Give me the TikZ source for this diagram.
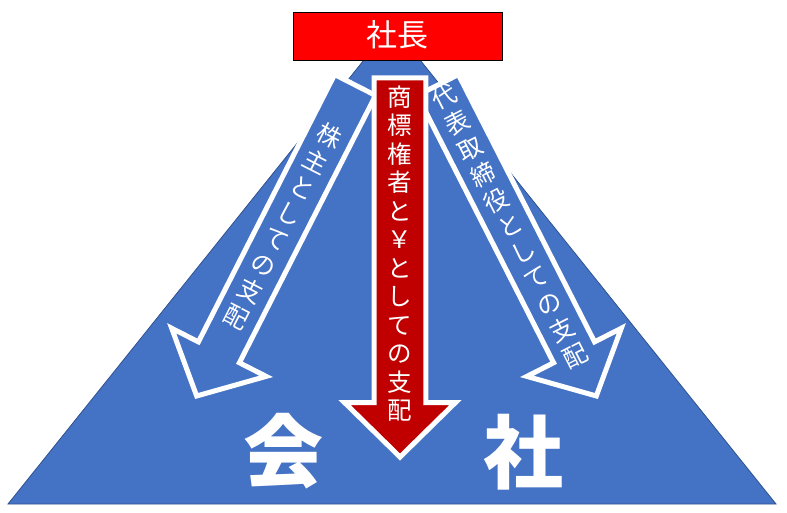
\documentclass[tikz,border=0pt]{standalone}
\usepackage{fontspec}
\newfontfamily\jp{Noto Sans CJK JP}
\definecolor{triblue}{HTML}{4472C4}
\definecolor{triedge}{HTML}{2F528F}
\definecolor{boxred}{HTML}{FF0000}
\definecolor{arrowred}{HTML}{C00000}
\tikzset{
  tribody/.style={fill=triblue, draw=triedge, line width=0.8pt},
  sidearrow/.style={fill=triblue, draw=white, line width=5pt, line join=miter, miter limit=10},
  mainarrow/.style={fill=arrowred, draw=white, line width=5pt, line join=miter, miter limit=10},
  titlebox/.style={fill=boxred, draw=black, line width=0.8pt, minimum width=209pt, minimum height=48pt, inner sep=0pt, text=white},
  vtext/.style={text=white, align=center, inner sep=0pt, font=\jp\fontsize{24.5}{29}\selectfont},
  bigchar/.style={text=white, inner sep=0pt, font=\jp\bfseries\fontsize{80}{84}\selectfont}
}
\begin{document}
\begin{tikzpicture}[x=1pt,y=-1pt]
\useasboundingbox (0,0) rectangle (787,513);
% company triangle
\draw[tribody] (392,25) -- (776,504) -- (8,504) -- cycle;
% left arrow (shareholder)
\begin{scope}[shift={(316.3,161.2)}, rotate=-27]
  \draw[sidearrow] (-23,-85.5) -- (23,-85.5) -- (23,214.5) -- (53,214.5) -- (0,263.5) -- (-53,214.5) -- (-23,214.5) -- cycle;
\end{scope}
% right arrow (representative director)
\begin{scope}[shift={(476.7,161.2)}, rotate=27]
  \draw[sidearrow] (-23,-85.5) -- (23,-85.5) -- (23,214.5) -- (53,214.5) -- (0,263.5) -- (-53,214.5) -- (-23,214.5) -- cycle;
\end{scope}
% central arrow
\draw[mainarrow] (374.2,78) -- (425.8,78) -- (425.8,402.5) -- (455.5,402.5) -- (400,457) -- (344.5,402.5) -- (374.2,402.5) -- cycle;
% texts
\node[vtext, rotate=-27] (lefttext) at (283.2,226.2) {株\\主\\と\\し\\て\\の\\支\\配};
\node[vtext, rotate=27] (righttext) at (509.8,226.2) {代\\表\\取\\締\\役\\と\\し\\て\\の\\支\\配};
\node[vtext, font=\jp\fontsize{24.5}{28.5}\selectfont] (midtext) at (400,253.4) {商\\標\\権\\者\\と\\￥\\と\\し\\て\\の\\支\\配};
\node[titlebox] (boss) at (398,36.5) {};
\node[text=white, inner sep=0pt, font=\jp\fontsize{31}{33}\selectfont] (bosstext) at (397,34.5) {社長};
\node[bigchar] (kai) at (283,451) {会};
\node[bigchar] (sha) at (523,452) {社};
\end{tikzpicture}
\end{document}
